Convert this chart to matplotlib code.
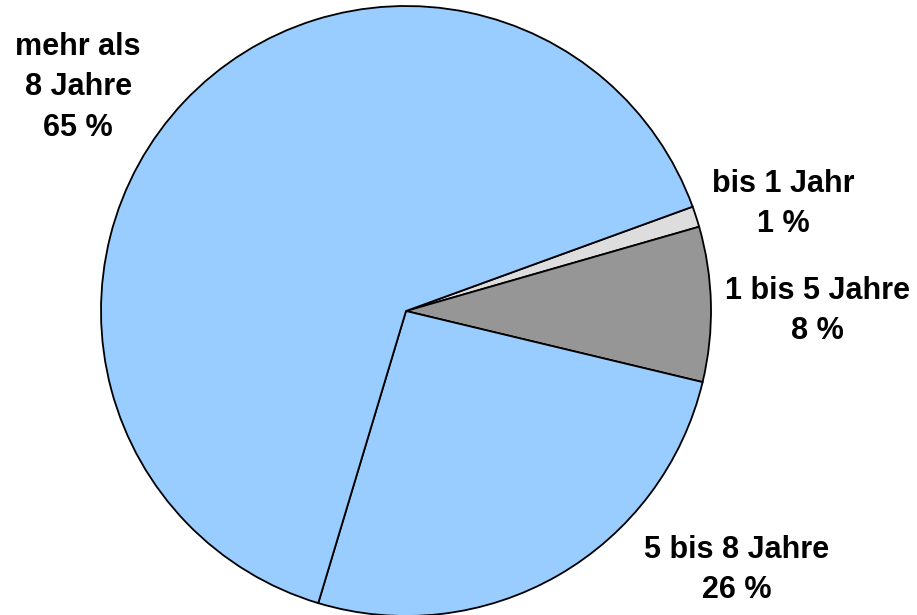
import matplotlib.pyplot as plt

# Anteile nach Dauer (Winkel, Beschriftung gerundet)
labels = ["bis 1 Jahr", "1 bis 5 Jahre", "5 bis 8 Jahre", "mehr als\n8 Jahre"]
shares = [1.1, 8.2, 25.9, 64.8]
pct_text = ["1 %", "8 %", "26 %", "65 %"]
colors = ["#DDDDDD", "#969696", "#99CCFF", "#99CCFF"]

# label positions in data units (pie radius = 1)
label_pos = [(1.236, 0.35), (1.35, 0.0), (1.085, -0.85), (-1.075, 0.733)]

fig = plt.figure(figsize=(9.17, 6.15), dpi=100)
ax = fig.add_axes([101 / 917, -1 / 615, 610 / 917, 610 / 615])

ax.pie(shares, colors=colors, startangle=20.0, counterclock=False,
       wedgeprops=dict(edgecolor="black", linewidth=1.3))

for lab, pct, (x, y) in zip(labels, pct_text, label_pos):
    ax.text(x, y, f"{lab}\n{pct}", ha="center", va="center",
            fontsize=22, fontweight="bold", family="Liberation Sans",
            linespacing=1.45, clip_on=False)

ax.set_xlim(-1, 1)
ax.set_ylim(-1, 1)
ax.set_aspect("equal")
ax.axis("off")

plt.savefig("out.png", dpi=100)
